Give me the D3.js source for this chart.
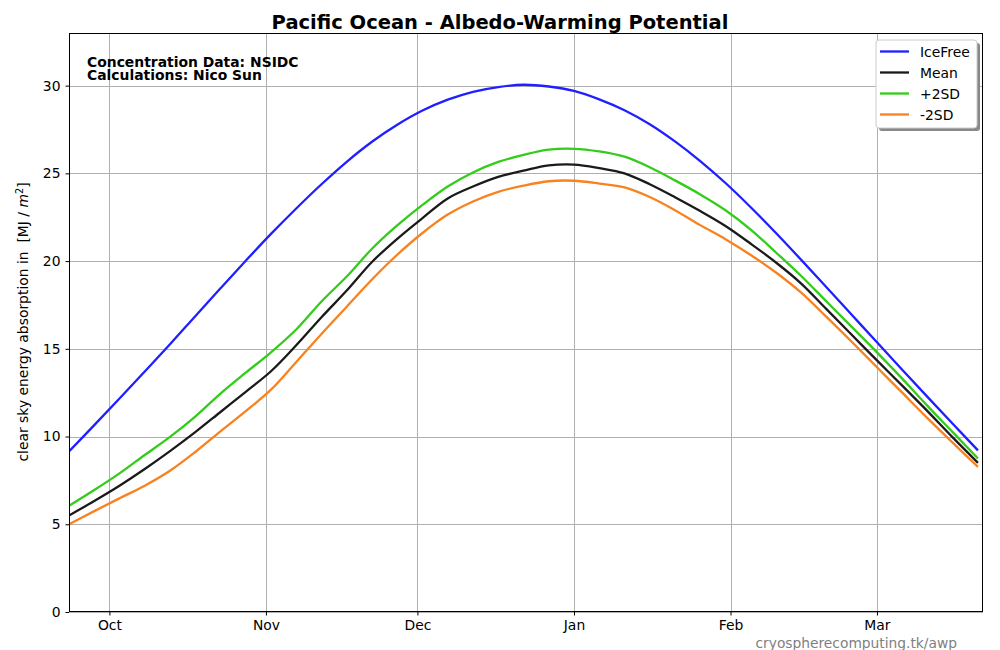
<!DOCTYPE html>
<html><head><meta charset="utf-8">
<script src="https://cdn.jsdelivr.net/npm/d3@7"></script>
<style>
body{margin:0;background:#fff;}
svg{font-family:"DejaVu Sans",sans-serif;}
</style></head>
<body><svg id="c" width="1000" height="650"></svg>
<script>
// days since 23 Sep 2023
const dayOffsets = [0,5,10,15,20,25,30,35,40,45,50,55,60,65,70,75,80,85,90,95,100,105,110,115,120,125,130,135,140,145,150,155,160,165,170,175,180];
const iceFree = [9.15,10.65,12.17,13.71,15.26,16.86,18.45,20.02,21.55,23.0,24.38,25.66,26.8,27.77,28.58,29.2,29.65,29.92,30.05,29.95,29.7,29.22,28.6,27.8,26.82,25.7,24.45,23.07,21.6,20.07,18.51,16.94,15.37,13.81,12.26,10.73,9.21];
const meanVals = [5.5,6.33,7.2,8.15,9.17,10.25,11.4,12.55,13.72,15.2,16.8,18.32,19.95,21.27,22.45,23.57,24.25,24.8,25.15,25.45,25.5,25.3,25.0,24.38,23.64,22.85,22.0,20.99,19.92,18.72,17.26,15.8,14.34,12.9,11.45,9.95,8.5];
const plus2SD = [6.05,6.95,7.9,8.95,9.98,11.14,12.45,13.64,14.8,16.1,17.7,19.12,20.7,22.03,23.2,24.25,25.05,25.65,26.05,26.35,26.4,26.25,25.95,25.35,24.6,23.8,22.9,21.8,20.49,19.15,17.7,16.25,14.8,13.3,11.75,10.25,8.75];
const minus2SD = [5.0,5.75,6.48,7.2,8.05,9.12,10.3,11.45,12.67,14.25,15.85,17.4,18.95,20.36,21.6,22.65,23.4,23.95,24.3,24.55,24.58,24.42,24.2,23.65,22.9,22.05,21.25,20.35,19.35,18.2,16.82,15.4,13.95,12.5,11.05,9.65,8.27];
const seriesNames = ["IceFree","Mean","+2SD","-2SD"];
const seriesColors = ["#1f1fff","#1a1a1a","#33cc1a","#f7821e"];
const yTicks = [0,5,10,15,20,25,30];

const svg = d3.select("#c");
const L=69,R=983,T=33,B=612;
const start = new Date(2023,8,23);
const x = d3.scaleTime().domain([start, new Date(2024,2,22)]).range([L,R]);
const y = d3.scaleLinear().domain([0,33]).range([B,T]);
const dates = dayOffsets.map(d=>d3.timeDay.offset(start,d));

// grid
const months = d3.timeMonth.range(new Date(2023,9,1), new Date(2024,2,2));
svg.append("g").selectAll("line").data(months).join("line")
  .attr("x1",d=>Math.round(x(d))+0.5).attr("x2",d=>Math.round(x(d))+0.5)
  .attr("y1",T).attr("y2",B).attr("stroke","#b0b0b0").attr("stroke-width",1);
svg.append("g").selectAll("line").data(yTicks).join("line")
  .attr("y1",d=>Math.round(y(d))+0.5).attr("y2",d=>Math.round(y(d))+0.5)
  .attr("x1",L).attr("x2",R).attr("stroke","#b0b0b0").attr("stroke-width",1);

// axes
const xAxis = d3.axisBottom(x).tickValues(months).tickFormat(d3.timeFormat("%b")).tickSize(3.5).tickPadding(5);
const gx = svg.append("g").attr("transform",`translate(0,${B})`).call(xAxis);
const yAxis = d3.axisLeft(y).tickValues(yTicks).tickSize(3.5).tickPadding(5);
const gy = svg.append("g").attr("transform",`translate(${L},0)`).call(yAxis);
[gx,gy].forEach(g=>{
  g.select(".domain").remove();
  g.selectAll("text").attr("font-size","13.9px").attr("fill","#000").attr("font-family","DejaVu Sans");
  g.selectAll("line").attr("stroke","#000");
});

// lines
svg.append("clipPath").attr("id","pc").append("rect").attr("x",L).attr("y",T).attr("width",R-L).attr("height",B-T);
const allSeries = [iceFree, meanVals, plus2SD, minus2SD];
const line = d3.line().x((d,i)=>x(dates[i])).y(d=>y(d)).curve(d3.curveCatmullRom.alpha(0.5));
svg.append("g").attr("clip-path","url(#pc)").selectAll("path").data(allSeries).join("path")
  .attr("d",line).attr("fill","none")
  .attr("stroke",(d,i)=>seriesColors[i]).attr("stroke-width",2.3).attr("stroke-linejoin","round");

// frame
svg.append("rect").attr("x",L+0.5).attr("y",T+0.5).attr("width",R-L-1).attr("height",B-T-1)
  .attr("fill","none").attr("stroke","#000").attr("stroke-width",1);

// title
svg.append("text").attr("x",500).attr("y",28.5).attr("text-anchor","middle")
  .attr("font-size","19.5px").attr("font-weight","bold").text("Pacific Ocean - Albedo-Warming Potential");

// annotations
svg.append("text").attr("x",87).attr("y",67).attr("font-size","13.9px").attr("font-weight","bold").text("Concentration Data: NSIDC");
svg.append("text").attr("x",87).attr("y",79.5).attr("font-size","13.9px").attr("font-weight","bold").text("Calculations: Nico Sun");

// y label
const yl = svg.append("text").attr("transform","translate(28,322) rotate(-90)").attr("text-anchor","middle")
  .attr("font-size","13.9px").attr("xml:space","preserve").style("white-space","pre");
yl.append("tspan").text("clear sky energy absorption in  [MJ / ");
yl.append("tspan").attr("font-style","italic").text("m");
yl.append("tspan").attr("font-size","9.7px").attr("dy","-5.5").text("2");
yl.append("tspan").attr("dy","5.5").text("]");

// watermark
svg.append("text").attr("x",957).attr("y",648).attr("text-anchor","end").attr("font-size","13.8px").attr("fill","#808080").text("cryospherecomputing.tk/awp");

// legend
const lg = svg.append("g");
lg.append("rect").attr("x",879).attr("y",43).attr("width",101).attr("height",88).attr("rx",3).attr("fill","#888");
lg.append("rect").attr("x",876).attr("y",40).attr("width",101).attr("height",88).attr("rx",3).attr("fill","#fff").attr("stroke","#ccc");
seriesNames.forEach((n,i)=>{
  const yy = 51.5 + i*21;
  lg.append("line").attr("x1",880).attr("x2",909).attr("y1",yy).attr("y2",yy).attr("stroke",seriesColors[i]).attr("stroke-width",2.3);
  lg.append("text").attr("x",920).attr("y",yy+5).attr("font-size","13.9px").text(n);
});
</script></body></html>
